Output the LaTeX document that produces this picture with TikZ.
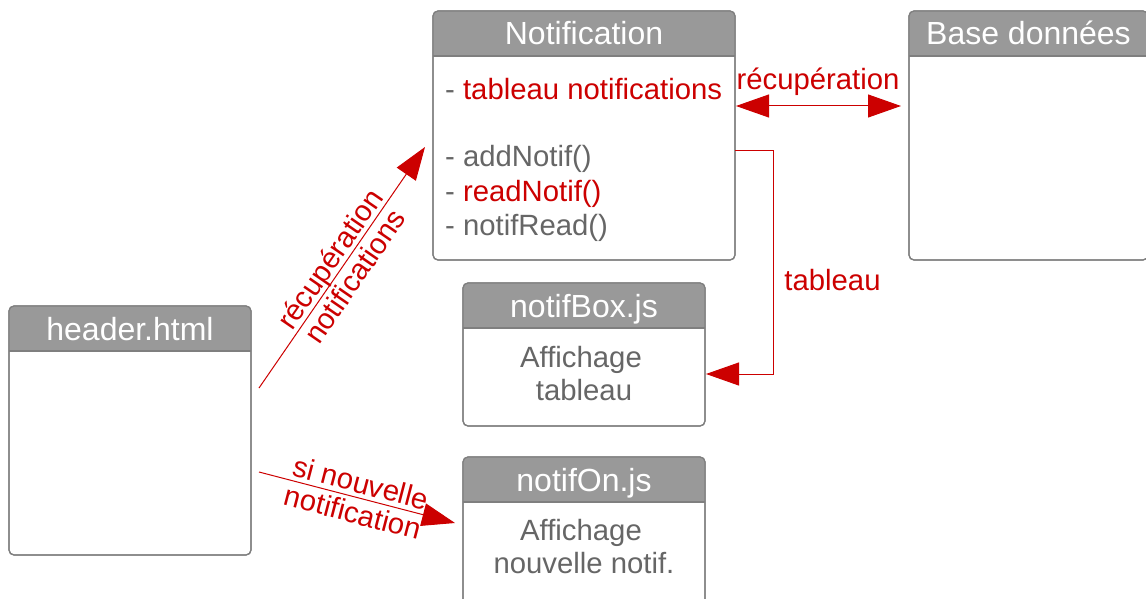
\documentclass[tikz,border=0pt]{standalone}
\usepackage{fontspec}
\setmainfont{Liberation Sans}
\usetikzlibrary{arrows.meta}
\definecolor{hdr}{HTML}{999999}
\definecolor{bord}{HTML}{7F7F7F}
\definecolor{txt}{HTML}{666666}
\definecolor{accent}{HTML}{CC0000}
\newcommand\umlclassbox[6]{%
  \node[box, minimum width=#4pt, minimum height=#5pt] (#1) at (#2,#3) {};
  \begin{scope}
    \clip (#2-3,#3-3) rectangle (#2+#4+3,#3+45);
    \fill[hdr, rounded corners=5pt] (#1.north west) rectangle (#1.south east);
  \end{scope}
  \draw[bord, line width=1.2pt, rounded corners=5pt] (#1.north west) rectangle (#1.south east);
  \draw[bord, line width=1.2pt] (#2,#3+45) -- (#2+#4,#3+45);
  \node[ttl] (#1t) at (#2+#4/2,#3+34) {#6};
}
\begin{document}
\begin{tikzpicture}[x=1pt,y=-1pt,
  box/.style={draw=bord, line width=1.2pt, rounded corners=5pt, anchor=north west, inner sep=0pt, outer sep=0pt, fill=white},
  ttl/.style={text=white, font=\fontsize{32}{36}\selectfont, anchor=base, inner sep=0pt},
  body/.style={text=txt, font=\fontsize{29.3}{33.5}\selectfont, inner sep=0pt},
  lbl/.style={text=accent, font=\fontsize{29.3}{30.5}\selectfont, align=center, inner sep=0pt},
  conn/.style={draw=accent, line width=1pt, -{Triangle[length=33pt,width=23pt]}},
  dconn/.style={draw=accent, line width=1pt, {Triangle[length=33pt,width=23pt]}-{Triangle[length=33pt,width=23pt]}},
]
\useasboundingbox (0,0) rectangle (1146,599);
\clip (0,0) rectangle (1146,599);
\fill[white] (0,0) rectangle (1146,599);

\umlclassbox{notif}{433}{11}{302}{249}{Notification}
\umlclassbox{base}{909}{11}{239}{249}{Base données}
\umlclassbox{header}{9}{306}{242}{249}{header.html}
\umlclassbox{nbox}{463}{283}{242}{143}{notifBox.js}
\umlclassbox{non}{463}{457}{242}{160}{notifOn.js}

% Notification content
\node[body, anchor=base west] (n1) at (445,100) {- \textcolor{accent}{tableau notifications}};
\node[body, anchor=base west] (n2) at (445,167) {- addNotif()};
\node[body, anchor=base west] (n3) at (445,201) {- \textcolor{accent}{readNotif()}};
\node[body, anchor=base west] (n4) at (445,235) {- notifRead()};

% notifBox content
\node[body, anchor=base] (b1) at (581,367) {Affichage};
\node[body, anchor=base] (b2) at (584,400) {tableau};

% notifOn content
\node[body, anchor=base] (o1) at (581,540) {Affichage};
\node[body, anchor=base] (o2) at (584,573) {nouvelle notif.};

% connectors
\coordinate (c1s) at (259,388);
\coordinate (c1e) at (425,147);
\draw[conn] (c1s) -- node[lbl, sloped] (l1) {récupération\\notifications} (c1e);

\coordinate (c2s) at (259,472);
\coordinate (c2e) at (455,523);
\draw[conn] (c2s) -- node[lbl, sloped] (l2) {si nouvelle\\notification} (c2e);

\coordinate (c3s) at (736,106);
\coordinate (c3e) at (901,106);
\draw[dconn] (c3s) -- (c3e);
\node[lbl, anchor=base] (l3) at (818,90) {récupération};

\coordinate (c4s) at (735,151);
\coordinate (c4m) at (773,374);
\coordinate (c4e) at (706,374);
\draw[conn] (c4s) -| (c4m) -- (c4e);
\node[lbl, anchor=base] (l4) at (832.5,290) {tableau};
\end{tikzpicture}
\end{document}
